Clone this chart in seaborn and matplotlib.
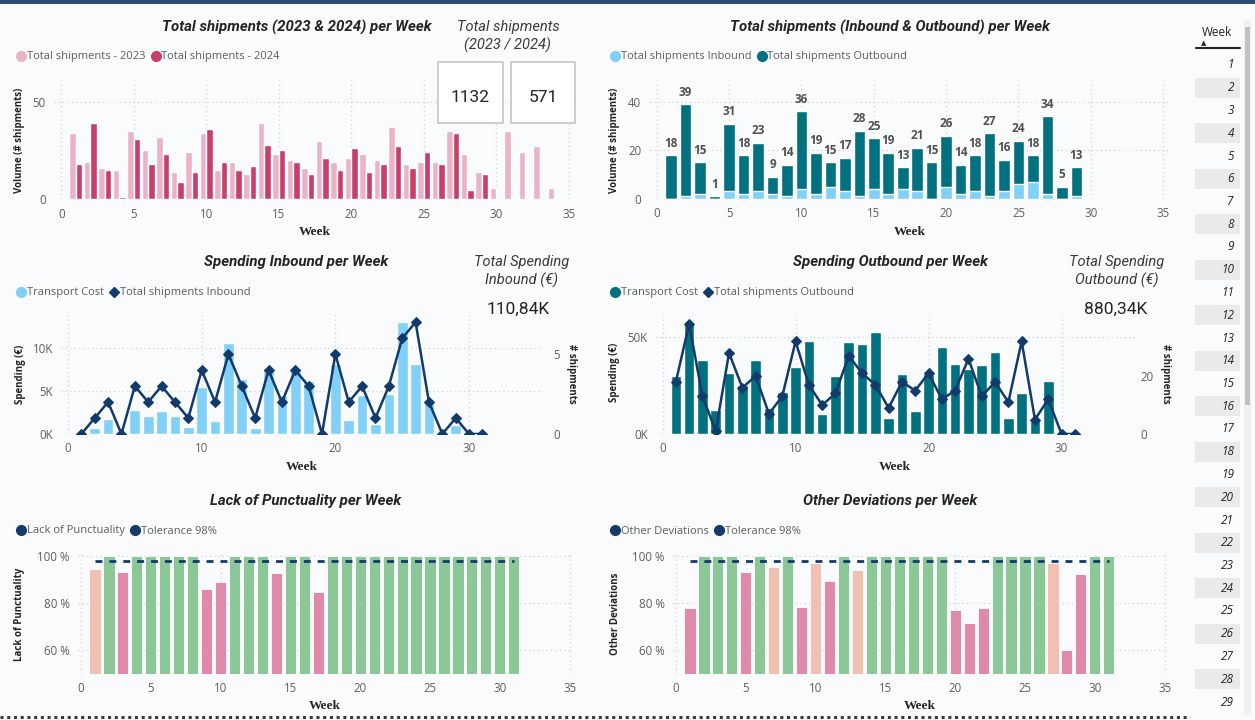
import pandas as pd
import matplotlib
matplotlib.use("Agg")
import matplotlib.pyplot as plt
import seaborn as sns
from matplotlib.lines import Line2D
from matplotlib.patches import Rectangle
from matplotlib.ticker import FuncFormatter

# ---- values ----
weeks_2023 = list(range(1, 35))
shipments_2023 = [34, 19, 16, 15, 35, 25, 32, 14, 24, 34, 15, 19, 13, 39, 23, 20, 16, 30, 19, 21,
                  23, 20, 37, 18, 19, 19, 35, 23, 14, 6, 35, 24, 27, 6]

weeks_2024 = list(range(1, 30))
shipments_inbound = [0, 1, 2, 0, 3, 2, 3, 2, 1, 4, 2, 5, 3, 1, 4, 2, 4, 3, 0, 5, 2, 3, 1, 3, 6, 7, 2, 0, 1]
shipments_outbound = [18, 38, 13, 1, 28, 16, 20, 7, 13, 32, 17, 10, 14, 27, 21, 17, 9, 18, 15, 21,
                      12, 15, 26, 13, 18, 11, 32, 5, 12]

cost_inbound = [0, 700, 1700, 0, 2800, 2100, 2700, 2100, 850, 5400, 1500, 10600, 6400, 700, 7700,
                4500, 7700, 6200, 0, 8100, 1600, 4500, 1200, 4600, 13000, 8100, 3600, 0, 1100]
cost_outbound = [30200, 57800, 38100, 12200, 31600, 25500, 38100, 13600, 21600, 34700, 48100, 10300,
                 30200, 47400, 46600, 52600, 8300, 30900, 12100, 30900, 45200, 36000, 33400, 35900,
                 42400, 8400, 21200, 6700, 27200]

line_weeks = list(range(1, 32))
line_inbound = [0, 1, 2, 0, 3, 2, 3, 2, 1, 4, 2, 5, 3, 1, 4, 2, 4, 3, 0, 5, 2, 3, 1, 3, 6, 7, 2, 0, 1, 0, 0]
line_outbound = [18, 38, 13, 1, 28, 16, 20, 7, 13, 32, 17, 10, 14, 27, 21, 17, 9, 18, 15, 21,
                 12, 15, 26, 13, 18, 11, 32, 5, 12, 0, 0]

kpi_weeks = list(range(1, 32))
punctuality = [94.5, 100, 93.3, 100, 100, 100, 100, 100, 85.8, 88.9, 100, 100, 100, 92.9, 100, 100,
               84.7, 100, 100, 100, 100, 100, 100, 100, 100, 100, 100, 100, 100, 100, 100]
other_deviations = [77.7, 100, 100, 100, 93.3, 100, 95.5, 100, 78.4, 96.9, 89.4, 100, 94.1, 100, 100,
                    100, 100, 100, 100, 77.0, 71.3, 77.7, 100, 100, 100, 100, 96.9, 60.0, 92.3, 100, 100]
tolerance = 98

slicer_weeks = list(range(1, 30))

# ---- colours ----
BG = "#FAFBFD"
TITLE = "#252423"
TICK = "#605E5C"
GRID = "#D2D2D2"
C_2023 = "#EAB3C7"
C_2024 = "#C83F6C"
C_IN = "#80D0F8"
C_OUT = "#01707F"
NAVY = "#123B6B"
STATUS = {"ok": "#8CC797", "warn": "#F0C0B1", "bad": "#DE8AA8"}

sns.set_theme(style="white")
plt.rcParams["font.family"] = ["Open Sans", "DejaVu Sans"]

W, H = 1255, 720
fig = plt.figure(figsize=(12.55, 7.2), dpi=100, facecolor=BG)


def px_axes(left, top, right, bottom):
    return fig.add_axes([left / W, 1 - bottom / H, (right - left) / W, (bottom - top) / H])


def ftext(x, y, s, **kw):
    kw.setdefault("ha", "center")
    kw.setdefault("va", "center")
    kw.setdefault("color", TITLE)
    return fig.text(x / W, 1 - y / H, s, **kw)


def style(ax, xticks, yticks, grid=True):
    ax.set_facecolor("none")
    for s in ax.spines.values():
        s.set_visible(False)
    ax.set_xticks(xticks)
    ax.set_yticks(yticks)
    ax.tick_params(length=0, colors=TICK, labelsize=8.3, pad=6)
    if grid:
        ax.grid(True, color=GRID, linestyle=(0, (1, 2.5)), linewidth=0.9)
    ax.set_axisbelow(True)
    ax.set_xlabel("Week", family="Liberation Serif", fontweight="bold", fontsize=9.5,
                  color=TITLE, labelpad=4)
    ax.set_ylabel("")


def legend_at(x, y, items):
    handles = [Line2D([], [], marker=m, linestyle="none", color=c, markersize=ms)
               for _, c, m, ms in items]
    fig.legend(handles, [t for t, *_ in items], loc="center left",
               bbox_to_anchor=(x / W, 1 - y / H), ncol=len(items), frameon=False,
               fontsize=8, labelcolor=TICK, handletextpad=0.05, columnspacing=0.5,
               handlelength=0.9, borderpad=0, borderaxespad=0)


k_fmt = FuncFormatter(lambda v, p: f"{v / 1000:.0f}K")
pct_fmt = FuncFormatter(lambda v, p: f"{v:.0f} %")

# ---- Total shipments 2023 & 2024 ----
totals_2024 = [i + o for i, o in zip(shipments_inbound, shipments_outbound)]
yearly = pd.concat([
    pd.DataFrame({"week": weeks_2023, "shipments": shipments_2023, "year": "2023"}),
    pd.DataFrame({"week": weeks_2024, "shipments": totals_2024, "year": "2024"}),
])
ax = px_axes(54, 80, 576, 199.3)
sns.barplot(data=yearly, x="week", y="shipments", hue="year", hue_order=["2023", "2024"],
            palette=[C_2023, C_2024], native_scale=True, width=0.9, gap=0.05,
            saturation=1, errorbar=None, legend=False, ax=ax)
style(ax, range(0, 36, 5), [0, 50])
ax.set_xlim(-0.5, 35.5)
ax.set_ylim(0, 61)

# ---- Inbound & Outbound stacked ----
ax = px_axes(649.5, 80, 1170.4, 198.7)
sns.barplot(x=weeks_2024, y=totals_2024, native_scale=True, color=C_OUT, width=0.8,
            saturation=1, errorbar=None, ax=ax)
ax.bar_label(ax.containers[0], labels=[str(t) for t in totals_2024], padding=4,
             fontsize=8.5, fontweight="bold", color="#505050")
sns.barplot(x=weeks_2024, y=shipments_inbound, native_scale=True, color=C_IN, width=0.8,
            saturation=1, errorbar=None, ax=ax)
style(ax, range(0, 36, 5), [0, 20, 40])
ax.set_xlim(-0.5, 35.5)
ax.set_ylim(0, 49)

# ---- Spending inbound ----
ax = px_axes(61.3, 313.3, 542.6, 434)
sns.barplot(x=weeks_2024, y=cost_inbound, native_scale=True, color=C_IN, width=0.8,
            saturation=1, errorbar=None, ax=ax)
style(ax, [0, 10, 20, 30], [0, 5000, 10000])
ax.yaxis.set_major_formatter(k_fmt)
ax2 = ax.twinx()
sns.lineplot(x=line_weeks, y=line_inbound, marker="D", markersize=5, color=NAVY,
             markeredgecolor=NAVY, linewidth=1.8, ax=ax2)
ax2.set_ylim(0, 7.56)
ax2.set_yticks([0, 5])
ax2.tick_params(length=0, colors=TICK, labelsize=8.3, pad=8)
for s in ax2.spines.values():
    s.set_visible(False)
ax.set_xlim(-0.5, 35.5)
ax.set_ylim(0, 14000)

# ---- Spending outbound ----
ax = px_axes(655.9, 315, 1134.7, 434)
sns.barplot(x=weeks_2024, y=cost_outbound, native_scale=True, color=C_OUT, width=0.8,
            saturation=1, errorbar=None, ax=ax)
style(ax, [0, 10, 20, 30], [0, 50000])
ax.yaxis.set_major_formatter(k_fmt)
ax2 = ax.twinx()
sns.lineplot(x=line_weeks, y=line_outbound, marker="D", markersize=5, color=NAVY,
             markeredgecolor=NAVY, linewidth=1.8, ax=ax2)
ax2.set_ylim(0, 41.1)
ax2.set_yticks([0, 20])
ax2.tick_params(length=0, colors=TICK, labelsize=8.3, pad=4)
for s in ax2.spines.values():
    s.set_visible(False)
ax.set_xlim(-0.5, 35.5)
ax.set_ylim(0, 61500)


# ---- KPI bars ----
def kpi_chart(left, values):
    status = ["ok" if v >= tolerance else "warn" if v >= 94 else "bad" for v in values]
    ax = px_axes(left, 553.6, left + 35.2 * 13.96 + 2.8, 673.5)
    sns.barplot(x=kpi_weeks, y=values, hue=status, palette=STATUS, dodge=False,
                native_scale=True, width=0.8, edgecolor="white", linewidth=0.6,
                saturation=1, errorbar=None, legend=False, ax=ax)
    sns.lineplot(x=kpi_weeks, y=[tolerance] * len(kpi_weeks), color=NAVY, linewidth=2,
                 linestyle=(0, (2.5, 2.5)), ax=ax)
    style(ax, range(0, 36, 5), [60, 80, 100])
    ax.yaxis.set_major_formatter(pct_fmt)
    ax.set_xlim(-0.2, 35.2)
    ax.set_ylim(50, 101)


kpi_chart(81 - 0.2 * 13.96, punctuality)
kpi_chart(676 - 0.2 * 13.96, other_deviations)

# ---- titles, legends, labels ----
tfont = dict(family="Roboto", fontweight="bold", style="italic", fontsize=10.8)
ftext(297, 27, "Total shipments (2023 & 2024) per Week", **tfont)
ftext(890, 27, "Total shipments (Inbound & Outbound) per Week", **tfont)
ftext(296, 262, "Spending Inbound per Week", **tfont)
ftext(890, 262, "Spending Outbound per Week", **tfont)
ftext(306, 501, "Lack of Punctuality per Week", **tfont)
ftext(890, 501, "Other Deviations per Week", **tfont)

kfont = dict(family="Roboto", style="italic", fontsize=10.5, color="#3B3A39")
ftext(508, 27, "Total shipments", **kfont)
ftext(508, 45, "(2023 / 2024)", **kfont)
ftext(522, 262, "Total Spending", **kfont)
ftext(522, 280, "Inbound (€)", **kfont)
ftext(1117, 262, "Total Spending", **kfont)
ftext(1117, 280, "Outbound (€)", **kfont)

vfont = dict(family="Roboto", fontsize=12.5, color=TITLE)
for x0, x1, val in [(438, 503, "1132"), (511, 575, "571")]:
    fig.add_artist(Rectangle((x0 / W, 1 - 123 / H), (x1 - x0) / W, 61 / H,
                             transform=fig.transFigure, facecolor="white",
                             edgecolor="#C8C6C4", linewidth=1.2, zorder=5))
    ftext((x0 + x1) / 2, 98, val, zorder=6, **vfont)
ftext(518, 309, "110,84K", **vfont)
ftext(1116, 309, "880,34K", **vfont)

yfont = dict(fontsize=7, fontweight="bold", color=TITLE)
ftext(20, 140, "Volume (# shipments)", rotation=90, **yfont)
ftext(614, 140, "Volume (# shipments)", rotation=90, **yfont)
ftext(20, 374, "Spending (€)", rotation=90, **yfont)
ftext(615, 372, "Spending (€)", rotation=90, **yfont)
ftext(572, 374, "# shipments", rotation=270, **yfont)
ftext(1165, 374, "# shipments", rotation=270, **yfont)
ftext(20, 614, "Lack of Punctuality", rotation=90, **yfont)
ftext(615, 614, "Other Deviations", rotation=90, **yfont)

legend_at(16, 57, [("Total shipments - 2023", C_2023, "o", 7),
                   ("Total shipments - 2024", C_2024, "o", 7)])
legend_at(610, 57, [("Total shipments Inbound", C_IN, "o", 7),
                    ("Total shipments Outbound", C_OUT, "o", 7)])
legend_at(16, 293, [("Transport Cost", C_IN, "o", 7),
                    ("Total shipments Inbound", NAVY, "D", 5.5)])
legend_at(610, 293, [("Transport Cost", C_OUT, "o", 7),
                     ("Total shipments Outbound", NAVY, "D", 5.5)])
legend_at(16, 531, [("Lack of Punctuality", NAVY, "o", 7),
                    ("Tolerance 98%", NAVY, "o", 7)])
legend_at(610, 531, [("Other Deviations", NAVY, "o", 7),
                     ("Tolerance 98%", NAVY, "o", 7)])

# ---- week slicer ----
ftext(1217, 33, "Week", fontsize=8.5, color=TITLE)
ftext(1204, 44, "▲", fontsize=5, color=TITLE)
fig.add_artist(Line2D([1196 / W, 1240 / W], [1 - 48 / H] * 2, color=TITLE, linewidth=1.5))
for i, wk in enumerate(slicer_weeks):
    yc = 65 + i * 22.75
    if wk % 2 == 0:
        fig.add_artist(Rectangle((1195 / W, 1 - (yc + 10) / H), 45 / W, 20 / H,
                                 transform=fig.transFigure, facecolor="#EAEAEA",
                                 edgecolor="none", zorder=0))
    ftext(1234, yc, str(wk), ha="right", fontsize=8.5, style="italic", color=TITLE)
fig.add_artist(Rectangle((1244 / W, 1 - 715 / H), 7 / W, 695 / H, transform=fig.transFigure,
                         facecolor="#F0F0F0", edgecolor="none"))
fig.add_artist(Rectangle((1245 / W, 1 - 405 / H), 5 / W, 378 / H, transform=fig.transFigure,
                         facecolor="#C2C2C2", edgecolor="none"))

# frame details
fig.add_artist(Rectangle((0, 1 - 4 / H), 1, 4 / H, transform=fig.transFigure,
                         facecolor="#2E4A6E", edgecolor="none"))
fig.add_artist(Line2D([0, 1190 / W], [1 - 717 / H] * 2, color="#3A3A3A",
                      linestyle=(0, (1, 1.2)), linewidth=2.2))

fig.savefig("out.png", dpi=100, facecolor=BG)
